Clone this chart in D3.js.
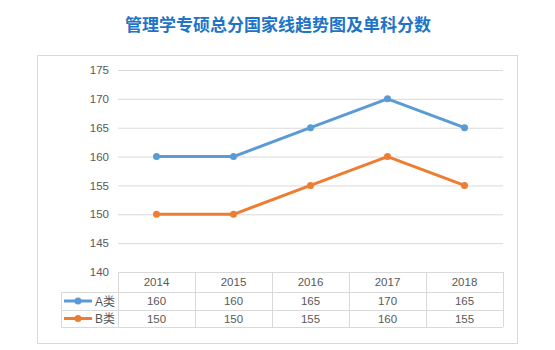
<!DOCTYPE html>
<html>
<head>
<meta charset="utf-8">
<script src="https://cdn.jsdelivr.net/npm/d3@7"></script>
<style>
  body { margin: 0; background: #fff; }
  svg text { font-family: "Liberation Sans", "Noto Sans CJK SC", sans-serif; }
</style>
</head>
<body>
<div id="graphic"></div>
<script>
const years = ["2014", "2015", "2016", "2017", "2018"];
const seriesNames = ["A类", "B类"];
const seriesA = [160, 160, 165, 170, 165];
const seriesB = [150, 150, 155, 160, 155];
const yTicks = [140, 145, 150, 155, 160, 165, 170, 175];
const colours = ["#5b9bd5", "#ed7d31"];
const title = "管理学专硕总分国家线趋势图及单科分数";

const width = 555, height = 350;
const plotLeft = 118, plotRight = 503, plotTop = 70, plotBottom = 272;
const rowH = [20, 18, 17];

const svg = d3.select("#graphic").append("svg")
  .attr("width", width).attr("height", height);

svg.append("rect").attr("x", 37.5).attr("y", 55.5).attr("width", 480).attr("height", 288)
  .attr("fill", "#fff").attr("stroke", "#d9d9d9");

svg.append("text").attr("x", 278).attr("y", 31).attr("text-anchor", "middle")
  .attr("font-size", 17).attr("font-weight", "bold").attr("fill", "#1e74c6")
  .style("font-family", "'Noto Sans CJK SC', sans-serif")
  .text(title);

const x = d3.scaleBand().domain(years).range([plotLeft, plotRight]);
const y = d3.scaleLinear().domain([140, 175]).range([plotBottom, plotTop]);

// gridlines + y labels
const yAxis = d3.axisLeft(y).tickValues(yTicks).tickSize(-(plotRight - plotLeft)).tickPadding(9);
const gy = svg.append("g").attr("transform", `translate(${plotLeft},0)`).call(yAxis);
gy.select(".domain").remove();
gy.selectAll("line").attr("stroke", "#d9d9d9");
gy.selectAll("text").attr("fill", "#595959").attr("font-size", 11.5)
  .style("font-family", "'Liberation Sans', sans-serif");

// data table
const tTop = plotBottom, r1 = tTop + rowH[0], r2 = r1 + rowH[1], r3 = r2 + rowH[2];
const legX = 61;
const grid = svg.append("g").attr("stroke", "#d9d9d9").attr("shape-rendering", "crispEdges");
[r1, r2, r3].forEach(v => grid.append("line").attr("x1", legX).attr("x2", plotRight).attr("y1", v).attr("y2", v));
grid.append("line").attr("x1", legX).attr("x2", legX).attr("y1", r1).attr("y2", r3);
years.concat([null]).forEach(yr => {
  const xv = yr ? x(yr) : plotRight;
  grid.append("line").attr("x1", xv).attr("x2", xv).attr("y1", tTop).attr("y2", r3);
});

svg.append("g").selectAll("text").data(years).join("text")
  .attr("x", d => x(d) + x.bandwidth() / 2).attr("y", tTop + rowH[0] / 2 + 4)
  .attr("text-anchor", "middle").attr("font-size", 11.5).attr("fill", "#595959")
  .text(d => d);

[seriesA, seriesB].forEach((vals, s) => {
  const rowY = (s === 0 ? r1 : r2) + rowH[s + 1] / 2;
  svg.append("g").selectAll("text").data(vals).join("text")
    .attr("x", (d, i) => x(years[i]) + x.bandwidth() / 2).attr("y", rowY + 4)
    .attr("text-anchor", "middle").attr("font-size", 11.5).attr("fill", "#595959")
    .text(d => d);
  // legend key
  svg.append("line").attr("x1", 64).attr("x2", 92).attr("y1", rowY).attr("y2", rowY)
    .attr("stroke", colours[s]).attr("stroke-width", 3);
  svg.append("circle").attr("cx", 78).attr("cy", rowY).attr("r", 3.5).attr("fill", colours[s]);
  svg.append("text").attr("x", 95).attr("y", rowY + 4.5).attr("font-size", 12)
    .attr("fill", "#595959").text(seriesNames[s]);
});

// lines
const line = d3.line().x((d, i) => x(years[i]) + x.bandwidth() / 2).y(d => y(d));
[seriesA, seriesB].forEach((vals, s) => {
  svg.append("path").datum(vals).attr("d", line).attr("fill", "none")
    .attr("stroke", colours[s]).attr("stroke-width", 3).attr("stroke-linejoin", "round");
  svg.append("g").selectAll("circle").data(vals).join("circle")
    .attr("cx", (d, i) => x(years[i]) + x.bandwidth() / 2).attr("cy", d => y(d))
    .attr("r", 3.5).attr("fill", colours[s]);
});
</script>
</body>
</html>
